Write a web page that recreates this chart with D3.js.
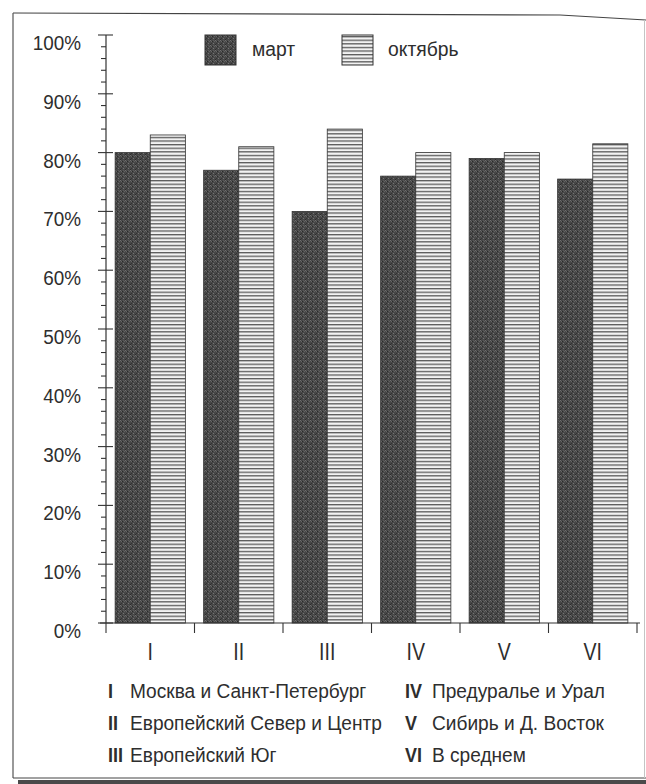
<!DOCTYPE html>
<html>
<head>
<meta charset="utf-8">
<script src="https://cdn.jsdelivr.net/npm/d3@7"></script>
<style>
  html, body { margin: 0; padding: 0; background: #fff; }
  svg { display: block; }
  text { font-family: "Liberation Sans", Arial, sans-serif; fill: #2e2e2e; }
</style>
</head>
<body>
<svg id="chart" width="646" height="784"></svg>
<script>
// ---- data ----
const categories = ["I", "II", "III", "IV", "V", "VI"];
const seriesNames = ["март", "октябрь"];
const marchValues = [80, 77, 70, 76, 79, 75.5];
const octoberValues = [83, 81, 84, 80, 80, 81.5];
const yTickValues = [0, 10, 20, 30, 40, 50, 60, 70, 80, 90, 100];
const legendNumerals = ["I", "II", "III", "IV", "V", "VI"];
const legendNames = ["Москва и Санкт-Петербург", "Европейский Север и Центр", "Европейский Юг",
                     "Предуралье и Урал", "Сибирь и Д. Восток", "В среднем"];

const svg = d3.select("#chart");
const defs = svg.append("defs");

// condensed text helper (the reference uses a narrow typeface)
function ctext(parent, x, y, str, size, sx, anchor) {
  return parent.append("text")
    .attr("transform", `translate(${x},${y}) scale(${sx},1)`)
    .attr("text-anchor", anchor || "start")
    .attr("font-size", size)
    .text(str);
}

// stippled dark fill for "март"
const pm = defs.append("pattern").attr("id", "pMarch").attr("patternUnits", "userSpaceOnUse")
  .attr("width", 5).attr("height", 5);
pm.append("rect").attr("width", 5).attr("height", 5).attr("fill", "#474747");
[[0,0,"#6e6e6e"],[2,1,"#2a2a2a"],[3,3,"#747474"],[1,3,"#333"],[4,1,"#626262"],[0,4,"#2c2c2c"],[3,0,"#585858"],[1,1,"#666"]]
  .forEach(([x, y, c]) => pm.append("rect").attr("x", x).attr("y", y).attr("width", 1).attr("height", 1).attr("fill", c));

// horizontal stripes for "октябрь"
const po = defs.append("pattern").attr("id", "pOct").attr("patternUnits", "userSpaceOnUse")
  .attr("width", 6).attr("height", 3.6);
po.append("rect").attr("width", 6).attr("height", 3.6).attr("fill", "#f2f2f2");
po.append("rect").attr("y", 0).attr("width", 6).attr("height", 1.3).attr("fill", "#5a5a5a");

const fills = ["url(#pMarch)", "url(#pOct)"];

// ---- frame ----
svg.append("path").attr("d", "M13,13 L560,15 L646,20").attr("fill", "none").attr("stroke", "#444").attr("stroke-width", 1.2);
svg.append("line").attr("x1", 13).attr("y1", 13).attr("x2", 13).attr("y2", 778).attr("stroke", "#555").attr("stroke-width", 1.2);
svg.append("line").attr("x1", 13).attr("y1", 778).attr("x2", 646).attr("y2", 778).attr("stroke", "#444").attr("stroke-width", 1.2);
svg.append("line").attr("x1", 644.5).attr("y1", 20).attr("x2", 644.5).attr("y2", 778).attr("stroke", "#c4c4c4").attr("stroke-width", 1);
svg.append("rect").attr("x", 18).attr("y", 780).attr("width", 628).attr("height", 4).attr("fill", "#4a4a4a");

// ---- scales ----
const y = d3.scaleLinear().domain([0, 100]).range([623, 35]);
const x = d3.scaleBand().domain(categories).range([106, 637]).padding(0);
const xs = d3.scaleBand().domain(seriesNames).range([0, x.bandwidth()]).paddingInner(0).paddingOuter(0.26);

const series = [marchValues, octoberValues];

// ---- bars ----
const g = svg.append("g");
categories.forEach((c, i) => {
  seriesNames.forEach((s, j) => {
    const v = series[j][i];
    g.append("rect")
      .attr("x", x(c) + xs(s))
      .attr("y", y(v))
      .attr("width", xs.bandwidth())
      .attr("height", y(0) - y(v))
      .attr("fill", fills[j])
      .attr("stroke", "#333")
      .attr("stroke-width", 0.8);
  });
});

// ---- y axis ----
const yAxisG = svg.append("g").attr("transform", "translate(106,0)");
yAxisG.append("line").attr("y1", y(100)).attr("y2", y(0)).attr("stroke", "#333").attr("stroke-width", 1.2);
d3.range(0, 101, 2).forEach(v => {
  const major = v % 10 === 0;
  yAxisG.append("line")
    .attr("x1", major ? -8 : -5).attr("x2", major ? 7 : 0)
    .attr("y1", y(v)).attr("y2", y(v))
    .attr("stroke", "#333").attr("stroke-width", 1.1);
});
yTickValues.forEach(v => {
  ctext(svg, 81, y(v) + 15, v + "%", 21, 0.9, "end");
});

// ---- x axis ----
svg.append("line").attr("x1", 100).attr("x2", 640).attr("y1", y(0)).attr("y2", y(0)).attr("stroke", "#333").attr("stroke-width", 1.2);
const boundaries = categories.map(c => x(c)).concat([x.range()[1]]);
boundaries.forEach(bx => {
  svg.append("line").attr("x1", bx).attr("x2", bx).attr("y1", y(0)).attr("y2", y(0) + 10)
    .attr("stroke", "#333").attr("stroke-width", 1.1);
});
categories.forEach(c => {
  ctext(svg, x(c) + x.bandwidth() / 2, 660, c, 23, 0.85, "middle").attr("font-weight", 300);
});

// ---- top legend ----
const legX = [205, 342];
const legTextX = [252, 388];
seriesNames.forEach((s, j) => {
  svg.append("rect").attr("x", legX[j]).attr("y", 35).attr("width", 31).attr("height", 30)
    .attr("fill", fills[j]).attr("stroke", "#333").attr("stroke-width", 1);
  ctext(svg, legTextX[j], 56, s, 21, 0.92);
});

// ---- bottom legend ----
const colNumX = [108, 405];
const colTextX = [130, 432];
const rowY = [698, 730, 762];
legendNames.forEach((name, i) => {
  const col = Math.floor(i / 3), row = i % 3;
  ctext(svg, colNumX[col], rowY[row], legendNumerals[i], 20, 0.9)
    .attr("font-weight", "bold").attr("fill", "#222");
  ctext(svg, colTextX[col], rowY[row], name, 21, 0.91);
});
</script>
</body>
</html>
